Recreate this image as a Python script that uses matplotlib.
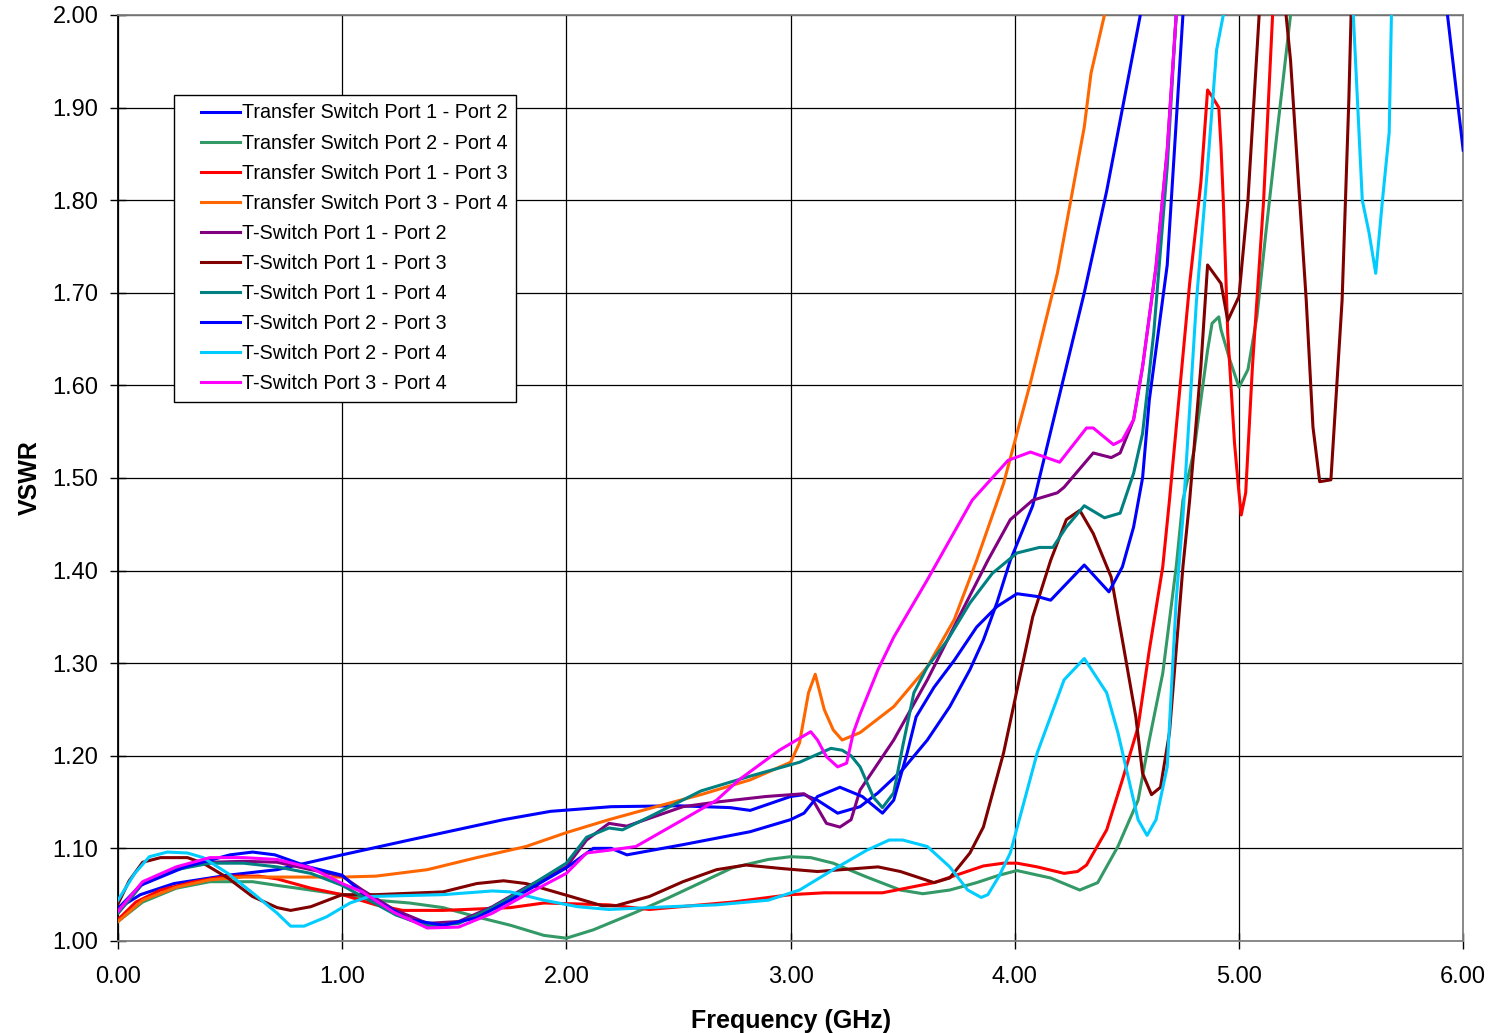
import matplotlib
matplotlib.use("Agg")
import matplotlib.pyplot as plt
from matplotlib.legend_handler import HandlerLine2D
from matplotlib.ticker import FormatStrFormatter, MultipleLocator

plt.rcParams['font.family'] = ['Liberation Sans', 'DejaVu Sans']

# --- data (VSWR vs frequency in GHz) ---
ts12_f = [0.00, 0.10, 0.25, 0.49, 0.71, 1.00, 1.30, 1.72, 1.93, 2.20, 2.50, 2.73, 2.82, 3.00, 3.06,
          3.12, 3.21, 3.31, 3.39, 3.50, 3.61, 3.71, 3.80, 3.86, 3.92, 3.98, 4.08, 4.19, 4.31, 4.41,
          4.56, 4.65, 5.50, 5.93, 6.00]
ts12_v = [1.035, 1.050, 1.062, 1.071, 1.077, 1.093, 1.109, 1.131, 1.140, 1.145, 1.146, 1.144, 1.141,
          1.156, 1.158, 1.152, 1.138, 1.145, 1.160, 1.185, 1.217, 1.253, 1.293, 1.325, 1.365, 1.411,
          1.470, 1.580, 1.700, 1.810, 2.000, 2.100, 2.400, 2.000, 1.854]

ts24_f = [0.00, 0.11, 0.26, 0.41, 0.60, 0.71, 0.80, 1.00, 1.15, 1.30, 1.45, 1.60, 1.75, 1.90, 2.00,
          2.12, 2.30, 2.45, 2.60, 2.74, 2.90, 3.00, 3.09, 3.19, 3.34, 3.49, 3.59, 3.71, 3.83, 3.93,
          4.01, 4.16, 4.29, 4.37, 4.46, 4.55, 4.60, 4.66, 4.72, 4.75, 4.80, 4.86, 4.88, 4.91, 4.92,
          4.96, 5.00, 5.04, 5.08, 5.12, 5.17, 5.23, 5.30, 6.00]
ts24_v = [1.021, 1.042, 1.057, 1.064, 1.064, 1.060, 1.057, 1.050, 1.044, 1.041, 1.036, 1.026, 1.017,
          1.006, 1.003, 1.012, 1.030, 1.046, 1.063, 1.079, 1.088, 1.091, 1.090, 1.084, 1.069, 1.055,
          1.051, 1.055, 1.063, 1.071, 1.076, 1.068, 1.055, 1.063, 1.102, 1.152, 1.217, 1.289, 1.404,
          1.476, 1.530, 1.638, 1.667, 1.674, 1.660, 1.627, 1.598, 1.617, 1.674, 1.765, 1.873, 2.000,
          2.100, 2.500]

ts13_f = [0.00, 0.08, 0.19, 0.34, 0.49, 0.63, 0.71, 0.86, 1.00, 1.15, 1.27, 1.45, 1.75, 1.90, 2.19,
          2.37, 2.74, 3.00, 3.15, 3.41, 3.64, 3.86, 3.95, 4.01, 4.10, 4.22, 4.28, 4.32, 4.41, 4.48,
          4.55, 4.60, 4.66, 4.69, 4.78, 4.83, 4.86, 4.88, 4.91, 4.92, 4.93, 4.95, 4.98, 5.00, 5.01,
          5.03, 5.06, 5.11, 5.15, 5.20, 6.00]
ts13_v = [1.023, 1.042, 1.055, 1.064, 1.070, 1.070, 1.067, 1.057, 1.050, 1.039, 1.033, 1.033, 1.036,
          1.041, 1.039, 1.034, 1.042, 1.050, 1.052, 1.052, 1.063, 1.081, 1.084, 1.084, 1.080, 1.073,
          1.075, 1.082, 1.120, 1.174, 1.231, 1.314, 1.404, 1.476, 1.710, 1.819, 1.919, 1.912, 1.900,
          1.857, 1.800, 1.656, 1.538, 1.484, 1.460, 1.484, 1.620, 1.800, 2.000, 2.100, 2.500]

ts34_f = [0.00, 0.11, 0.26, 0.41, 0.56, 0.71, 1.00, 1.15, 1.38, 1.60, 1.82, 2.00, 2.19, 2.40, 2.60,
          2.82, 3.00, 3.04, 3.08, 3.11, 3.15, 3.19, 3.23, 3.31, 3.46, 3.61, 3.73, 3.83, 3.95, 4.07,
          4.19, 4.25, 4.31, 4.34, 4.40, 4.50, 6.00]
ts34_v = [1.021, 1.044, 1.058, 1.066, 1.069, 1.069, 1.069, 1.070, 1.077, 1.090, 1.102, 1.117, 1.131,
          1.145, 1.158, 1.174, 1.193, 1.214, 1.268, 1.288, 1.250, 1.228, 1.217, 1.225, 1.253, 1.296,
          1.347, 1.411, 1.494, 1.603, 1.721, 1.800, 1.879, 1.937, 2.000, 2.100, 2.500]

t12_f = [0.00, 0.11, 0.26, 0.41, 0.56, 0.71, 0.86, 1.00, 1.09, 1.23, 1.38, 1.52, 1.67, 1.82, 2.00,
         2.09, 2.19, 2.27, 2.52, 2.67, 2.89, 3.06, 3.10, 3.16, 3.22, 3.27, 3.31, 3.46, 3.61, 3.76,
         3.88, 3.98, 4.08, 4.19, 4.22, 4.35, 4.43, 4.47, 4.53, 4.57, 4.63, 4.68, 4.72, 4.80, 6.00]
t12_v = [1.030, 1.062, 1.079, 1.085, 1.086, 1.085, 1.077, 1.070, 1.055, 1.034, 1.019, 1.021, 1.037,
         1.058, 1.080, 1.109, 1.127, 1.124, 1.145, 1.150, 1.156, 1.159, 1.152, 1.127, 1.123, 1.131,
         1.163, 1.217, 1.282, 1.354, 1.411, 1.455, 1.476, 1.484, 1.490, 1.527, 1.522, 1.527, 1.563,
         1.620, 1.728, 1.854, 2.000, 2.100, 2.500]

t13_f = [0.00, 0.05, 0.11, 0.19, 0.31, 0.38, 0.49, 0.60, 0.71, 0.77, 0.86, 1.00, 1.15, 1.45, 1.60,
         1.72, 1.82, 2.02, 2.16, 2.22, 2.37, 2.52, 2.67, 2.80, 2.97, 3.12, 3.39, 3.49, 3.64, 3.71,
         3.80, 3.86, 3.95, 4.01, 4.08, 4.16, 4.23, 4.29, 4.35, 4.43, 4.48, 4.54, 4.57, 4.61, 4.65,
         4.69, 4.75, 4.78, 4.83, 4.86, 4.92, 4.95, 5.00, 5.04, 5.09, 5.15, 5.21, 5.23, 5.30, 5.33,
         5.36, 5.41, 5.46, 5.49, 5.50, 5.55, 6.00]
t13_v = [1.040, 1.065, 1.085, 1.090, 1.090, 1.084, 1.068, 1.048, 1.036, 1.033, 1.037, 1.050, 1.050,
         1.053, 1.062, 1.065, 1.062, 1.048, 1.038, 1.038, 1.048, 1.064, 1.077, 1.082, 1.078, 1.075,
         1.080, 1.075, 1.063, 1.068, 1.095, 1.123, 1.203, 1.271, 1.350, 1.411, 1.455, 1.465, 1.440,
         1.393, 1.325, 1.242, 1.181, 1.158, 1.166, 1.225, 1.404, 1.476, 1.620, 1.730, 1.710, 1.670,
         1.696, 1.800, 2.000, 2.100, 2.000, 1.951, 1.692, 1.555, 1.496, 1.498, 1.692, 1.908, 2.000,
         2.100, 2.500]

t14_f = [0.00, 0.11, 0.26, 0.41, 0.56, 0.71, 0.86, 1.00, 1.12, 1.24, 1.38, 1.52, 1.67, 1.82, 2.00,
         2.09, 2.19, 2.25, 2.37, 2.60, 2.82, 3.04, 3.18, 3.23, 3.27, 3.31, 3.37, 3.41, 3.46, 3.50,
         3.55, 3.61, 3.70, 3.80, 3.90, 4.01, 4.11, 4.17, 4.23, 4.31, 4.40, 4.47, 4.53, 4.57, 4.62,
         4.68, 4.72, 4.80, 6.00]
t14_v = [1.030, 1.062, 1.077, 1.084, 1.084, 1.080, 1.073, 1.060, 1.044, 1.028, 1.016, 1.019, 1.036,
         1.057, 1.084, 1.112, 1.122, 1.120, 1.134, 1.162, 1.178, 1.193, 1.208, 1.206, 1.200, 1.188,
         1.155, 1.144, 1.160, 1.210, 1.268, 1.296, 1.325, 1.365, 1.397, 1.419, 1.425, 1.425, 1.447,
         1.470, 1.457, 1.462, 1.505, 1.548, 1.657, 1.836, 2.000, 2.100, 2.500]

t23_f = [0.00, 0.10, 0.30, 0.50, 0.60, 0.70, 0.85, 1.00, 1.09, 1.30, 1.45, 1.60, 1.75, 2.00, 2.12,
         2.20, 2.27, 2.52, 2.82, 3.00, 3.06, 3.12, 3.22, 3.32, 3.41, 3.46, 3.52, 3.56, 3.64, 3.73,
         3.83, 3.92, 4.01, 4.10, 4.16, 4.31, 4.42, 4.48, 4.53, 4.57, 4.60, 4.68, 4.75, 4.80, 6.00]
t23_v = [1.035, 1.060, 1.080, 1.093, 1.096, 1.093, 1.080, 1.071, 1.052, 1.023, 1.017, 1.025, 1.044,
         1.079, 1.100, 1.100, 1.093, 1.104, 1.118, 1.131, 1.138, 1.156, 1.166, 1.156, 1.138, 1.152,
         1.203, 1.242, 1.274, 1.303, 1.339, 1.361, 1.375, 1.372, 1.368, 1.406, 1.377, 1.404, 1.447,
         1.500, 1.584, 1.730, 2.000, 2.100, 2.500]

t24_f = [0.00, 0.075, 0.14, 0.22, 0.31, 0.38, 0.49, 0.60, 0.71, 0.77, 0.83, 0.93, 1.035, 1.12, 1.45,
         1.67, 1.75, 1.90, 2.05, 2.19, 2.46, 2.67, 2.90, 3.04, 3.19, 3.34, 3.44, 3.50, 3.61, 3.71,
         3.79, 3.85, 3.88, 3.93, 3.98, 4.10, 4.22, 4.31, 4.41, 4.46, 4.55, 4.59, 4.63, 4.68, 4.72,
         4.75, 4.81, 4.86, 4.90, 4.93, 5.20, 5.51, 5.55, 5.58, 5.61, 5.64, 5.67, 5.68, 5.80, 6.00]
t24_v = [1.044, 1.073, 1.091, 1.096, 1.095, 1.090, 1.073, 1.052, 1.030, 1.016, 1.016, 1.026, 1.041,
         1.048, 1.050, 1.054, 1.053, 1.044, 1.037, 1.034, 1.037, 1.039, 1.044, 1.055, 1.077, 1.098,
         1.109, 1.109, 1.102, 1.080, 1.055, 1.047, 1.050, 1.070, 1.095, 1.203, 1.282, 1.305, 1.268,
         1.225, 1.131, 1.114, 1.131, 1.188, 1.368, 1.458, 1.690, 1.836, 1.962, 2.000, 2.300, 2.000,
         1.800, 1.765, 1.721, 1.800, 1.873, 2.000, 2.200, 2.500]

t34_f = [0.00, 0.11, 0.26, 0.41, 0.56, 0.71, 0.86, 1.00, 1.09, 1.23, 1.38, 1.52, 1.67, 1.82, 2.00,
         2.09, 2.19, 2.31, 2.52, 2.67, 2.77, 2.95, 3.09, 3.12, 3.16, 3.21, 3.25, 3.28, 3.31, 3.39,
         3.46, 3.61, 3.81, 3.97, 4.07, 4.20, 4.32, 4.35, 4.44, 4.48, 4.53, 4.57, 4.63, 4.68, 4.72,
         4.80, 6.00]
t34_v = [1.032, 1.064, 1.080, 1.090, 1.090, 1.088, 1.079, 1.062, 1.053, 1.031, 1.014, 1.015, 1.030,
         1.050, 1.073, 1.095, 1.098, 1.102, 1.131, 1.152, 1.174, 1.206, 1.226, 1.217, 1.199, 1.188,
         1.192, 1.225, 1.245, 1.293, 1.328, 1.390, 1.476, 1.519, 1.528, 1.517, 1.554, 1.554, 1.536,
         1.541, 1.563, 1.620, 1.728, 1.854, 2.000, 2.100, 2.500]

labels = ["Transfer Switch Port 1 - Port 2", "Transfer Switch Port 2 - Port 4",
          "Transfer Switch Port 1 - Port 3", "Transfer Switch Port 3 - Port 4",
          "T-Switch Port 1 - Port 2", "T-Switch Port 1 - Port 3", "T-Switch Port 1 - Port 4",
          "T-Switch Port 2 - Port 3", "T-Switch Port 2 - Port 4", "T-Switch Port 3 - Port 4"]
colors = ["#0000FF", "#339966", "#FF0000", "#FF6600", "#800080",
          "#800000", "#008080", "#0000FF", "#00CCFF", "#FF00FF"]
series = [(ts12_f, ts12_v), (ts24_f, ts24_v), (ts13_f, ts13_v), (ts34_f, ts34_v),
          (t12_f, t12_v), (t13_f, t13_v), (t14_f, t14_v), (t23_f, t23_v),
          (t24_f, t24_v), (t34_f, t34_v)]


class PaddedLine(HandlerLine2D):
    # legend sample drawn only in the right part of the handle box (Excel look)
    def create_artists(self, legend, orig_handle, xdescent, ydescent, width, height,
                       fontsize, trans):
        pad = 0.31 * width
        return super().create_artists(legend, orig_handle, xdescent - pad, ydescent,
                                      width - pad, height, fontsize, trans)


fig = plt.figure(figsize=(14.99, 10.33), dpi=100)
ax = fig.add_axes([0.0787, 0.0891, 0.8974, 0.8964])

lines = []
for (f, v), lab, col in zip(series, labels, colors):
    ln, = ax.plot(f, v, color=col, linewidth=2.2, label=lab, zorder=3)
    lines.append(ln)

ax.set_xlim(0, 6)
ax.set_ylim(1.0, 2.0)
ax.xaxis.set_major_locator(MultipleLocator(1.0))
ax.yaxis.set_major_locator(MultipleLocator(0.1))
ax.xaxis.set_major_formatter(FormatStrFormatter("%.2f"))
ax.yaxis.set_major_formatter(FormatStrFormatter("%.2f"))
ax.tick_params(direction="inout", length=12, width=1, labelsize=17, colors="black")
ax.tick_params(axis="x", pad=12)
ax.tick_params(axis="y", pad=8)

ax.grid(True, color="black", linewidth=0.9, zorder=1)
for s in ax.spines.values():
    s.set_edgecolor("#808080")
    s.set_linewidth(1.3)
ax.spines["left"].set_edgecolor("black")

ax.set_xlabel("Frequency (GHz)", fontsize=18, fontweight="bold", labelpad=15)
ax.set_ylabel("VSWR", fontsize=18, fontweight="bold", labelpad=8)

leg = ax.legend(handles=lines, loc="upper left", bbox_to_anchor=(0.042, 0.914), fontsize=14.2,
                frameon=True, fancybox=False, edgecolor="black", framealpha=1,
                handlelength=2.85, handletextpad=0.1, labelspacing=0.56,
                borderpad=0.45, borderaxespad=0,
                handler_map={ln: PaddedLine() for ln in lines})
leg.get_frame().set_linewidth(1.0)

fig.savefig("out.png", dpi=100, facecolor="white")
plt.close(fig)
